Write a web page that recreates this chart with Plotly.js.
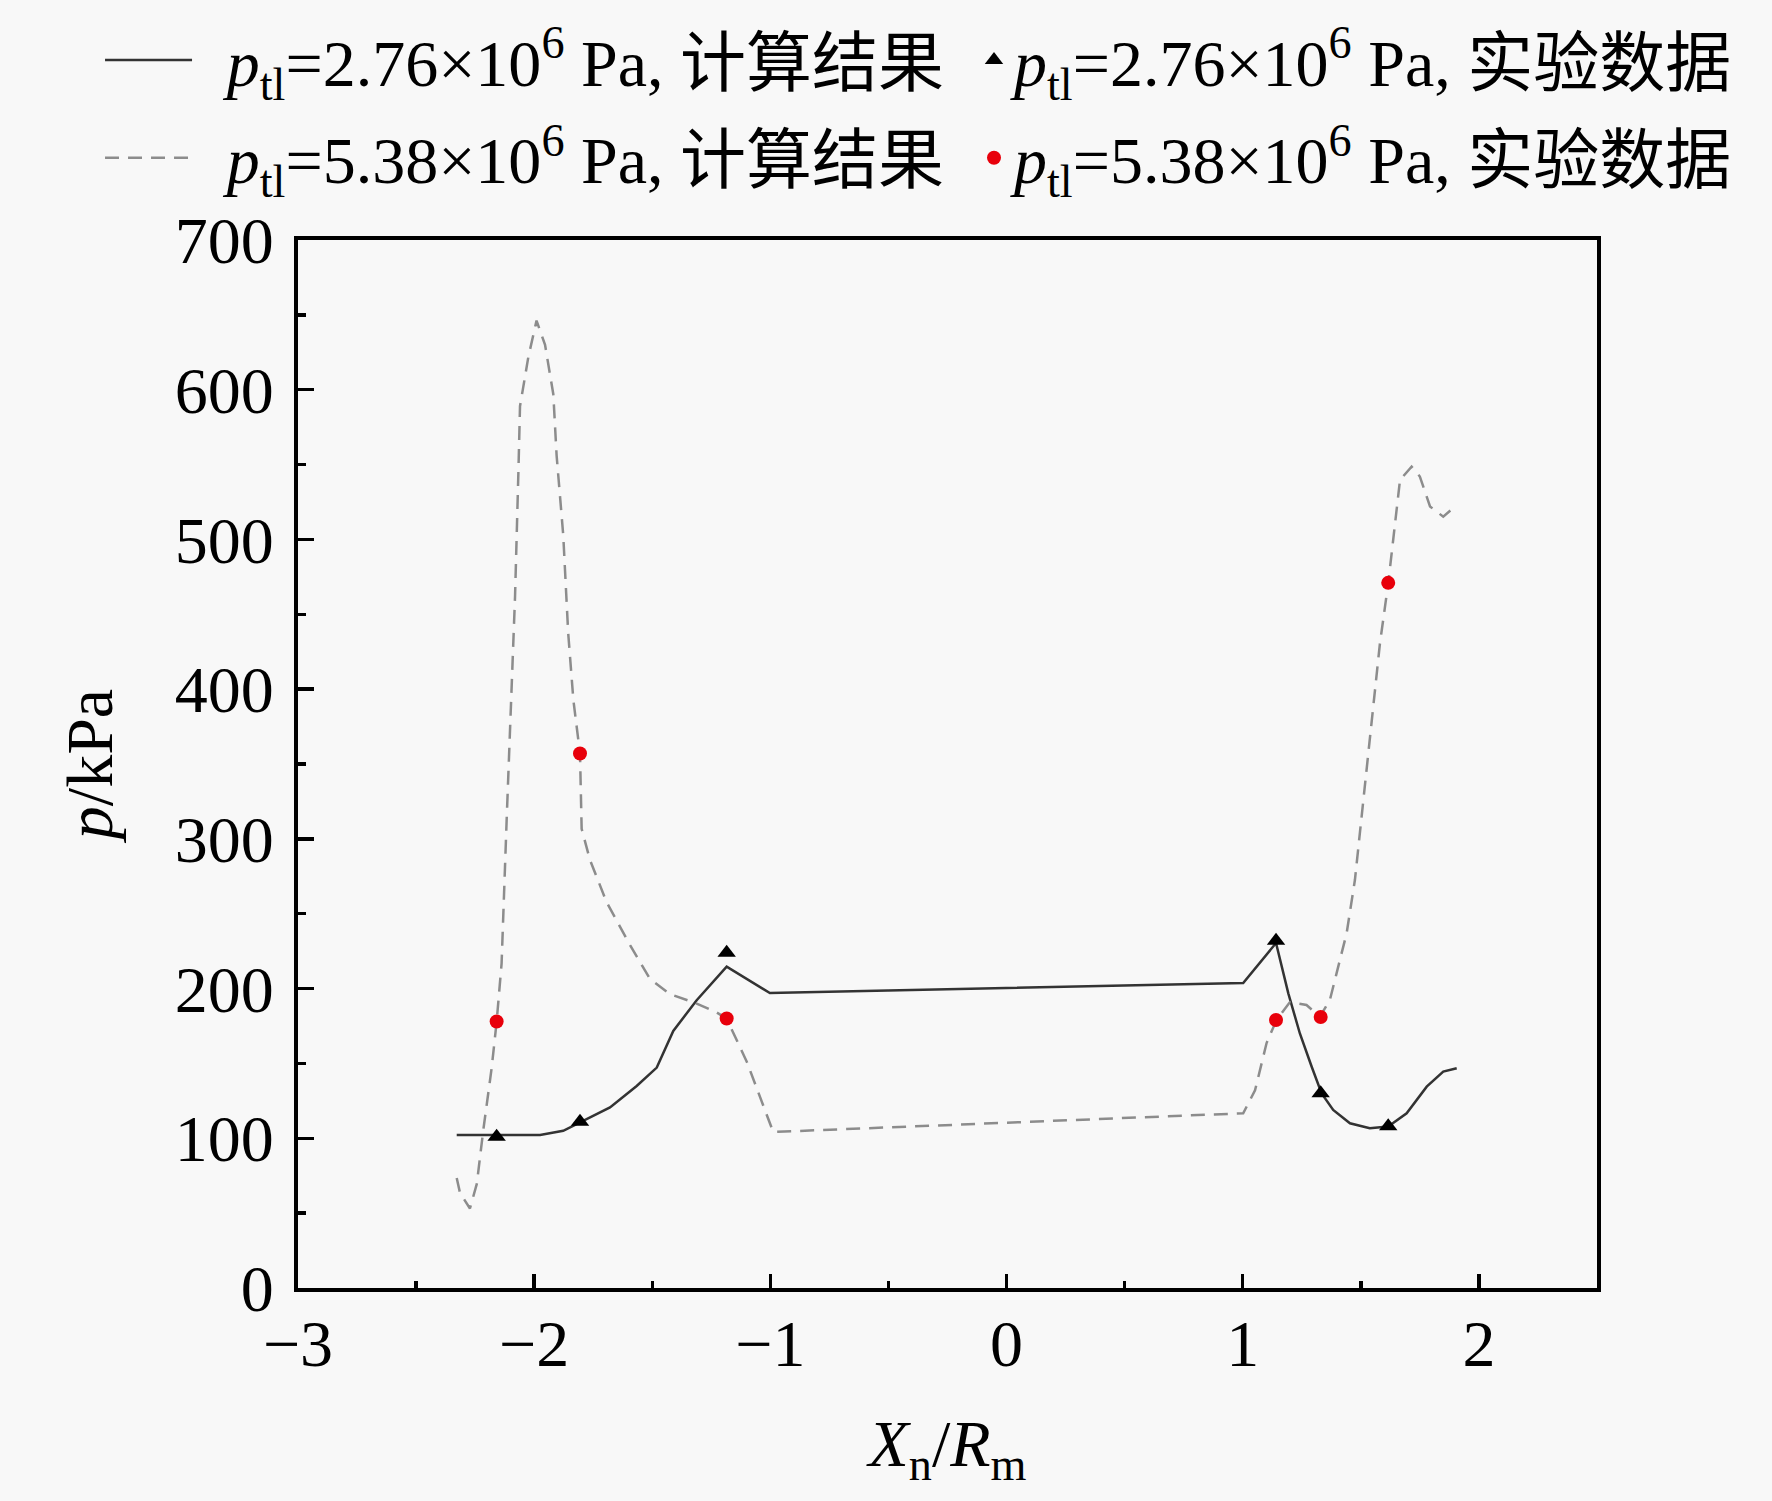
<!DOCTYPE html>
<html>
<head>
<meta charset="utf-8">
<script src="https://cdn.plot.ly/plotly-3.0.1.min.js"></script>
<style>
  html, body { margin: 0; padding: 0; background: #f8f8f8; }
  #chart { width: 1772px; height: 1501px; }
</style>
</head>
<body>
<div id="chart"></div>
<script>
// computed pressure, p_tl = 2.76e6 Pa (solid)
const calcLowX = [-2.328, -2.159, -1.975, -1.877, -1.806, -1.679, -1.566, -1.481, -1.411, -1.312, -1.185,
                  -1.002, 1.002, 1.141, 1.193, 1.242, 1.292, 1.334, 1.383, 1.454, 1.538, 1.616, 1.694, 1.779, 1.849, 1.906];
const calcLowY = [102.2, 102.2, 102.2, 105, 110.4, 120.6, 134.9, 147.2, 171.7, 192.2, 214.6,
                  197, 203.7, 230.4, 196.8, 170, 147.8, 130, 118.9, 110, 106.7, 107.8, 116.7, 134.5, 144.5, 146.8];

// computed pressure, p_tl = 5.38e6 Pa (dashed)
const calcHighX = [-2.328, -2.314, -2.272, -2.243, -2.215, -2.18, -2.159, -2.138, -2.116, -2.095, -2.081, -2.067,
                   -2.06, -2.025, -1.99, -1.954, -1.919, -1.905, -1.877, -1.856, -1.834, -1.806, -1.799, -1.764,
                   -1.693, -1.594, -1.51, -1.425, -1.312, -1.227, -1.185, -1.1, -0.988,
                   1.002, 1.052, 1.101, 1.143, 1.2, 1.27, 1.327, 1.369, 1.397, 1.44, 1.475, 1.546, 1.581, 1.616,
                   1.637, 1.666, 1.715, 1.75, 1.793, 1.849, 1.899];
const calcHighY = [73.5, 63.5, 53.1, 69.5, 106, 147, 177.8, 216.7, 315, 400.8, 462, 544,
                   589, 621.6, 646.2, 630, 597, 556, 503, 437.5, 392.6, 357, 306.7, 286,
                   257.6, 229, 206.5, 196.3, 190, 184, 179.9, 151.2, 104.2,
                   116.7, 132, 163.6, 179, 191, 189, 181.2, 192.4, 210, 237, 272.5, 379, 430.6, 470.7,
                   499.7, 539.7, 548.6, 542, 522, 515.2, 522];

// experiments
const expX = [-2.159, -1.806, -1.185, 1.141, 1.33, 1.616];
const expLowY = [101, 111, 224, 232, 130, 108];
const expHighY = [178, 357, 180, 179, 181, 471];

const serif = "Liberation Serif, Times New Roman, Noto Sans CJK SC, serif";
const ptl = "<i>p</i><sub>tl</sub>";
const gap = "\u00A0\u2009";
const names = [
  gap + ptl + "=2.76×10<sup>6</sup> Pa, 计算结果",
  ptl + "=2.76×10<sup>6</sup> Pa, 实验数据",
  gap + ptl + "=5.38×10<sup>6</sup> Pa, 计算结果",
  ptl + "=5.38×10<sup>6</sup> Pa, 实验数据",
];

const traces = [
  { x: calcLowX, y: calcLowY, type: "scatter", mode: "lines", name: names[0],
    legend: "legend", legendgroup: "a",
    line: { color: "#333333", width: 2.5 } },
  { x: expX, y: expLowY, type: "scatter", mode: "markers", name: names[1],
    legend: "legend2", legendgroup: "b",
    marker: { symbol: "triangle-up", color: "#000000", size: 16 } },
  { x: calcHighX, y: calcHighY, type: "scatter", mode: "lines", name: names[2],
    legend: "legend", legendgroup: "c",
    line: { color: "#8c8c8c", width: 2.5, dash: "14px,9px" } },
  { x: expX, y: expHighY, type: "scatter", mode: "markers", name: names[3],
    legend: "legend2", legendgroup: "d",
    marker: { symbol: "circle", color: "#e8000b", size: 14 } },
];

const axisCommon = {
  showline: true, linecolor: "#000", linewidth: 4, mirror: true,
  ticks: "inside", tickcolor: "#000", tickwidth: 3.5,
  showgrid: false, zeroline: false,
  tickfont: { family: serif, size: 66, color: "#000" },
};

const legendCommon = {
  orientation: "v", xref: "paper", yref: "container",
  xanchor: "left", y: 0.993, yanchor: "top",
  tracegroupgap: 9,
  bgcolor: "rgba(0,0,0,0)", borderwidth: 0,
  font: { family: serif, size: 66, color: "#000" },
};

const layout = {
  width: 1772, height: 1501,
  paper_bgcolor: "#f8f8f8", plot_bgcolor: "#f8f8f8",
  margin: { l: 298, r: 175, t: 240, b: 213 },
  font: { family: serif, color: "#000" },
  xaxis: Object.assign({}, axisCommon, {
    range: [-3, 2.5], dtick: 1, tick0: 0, ticklen: 14, ticklabelstandoff: -5,
    minor: { dtick: 0.5, ticks: "inside", ticklen: 7, tickwidth: 3.5, tickcolor: "#000" },
    title: { text: "<i>X</i><sub>n</sub>/<i>R</i><sub>m</sub>", font: { family: serif, size: 66 }, standoff: 42 },
  }),
  yaxis: Object.assign({}, axisCommon, {
    range: [0, 700], dtick: 100, ticklen: 16, ticklabelstandoff: 7,
    minor: { dtick: 50, ticks: "inside", ticklen: 8, tickwidth: 3.5, tickcolor: "#000" },
    title: { text: "<i>p</i>/kPa", font: { family: serif, size: 66 }, standoff: 42 },
  }),
  showlegend: true,
  legend: Object.assign({}, legendCommon, { x: -0.1524, itemwidth: 87 }),
  legend2: Object.assign({}, legendCommon, { x: 0.5204, itemwidth: 30 }),
};

Plotly.newPlot("chart", traces, layout, { staticPlot: true });
</script>
</body>
</html>
